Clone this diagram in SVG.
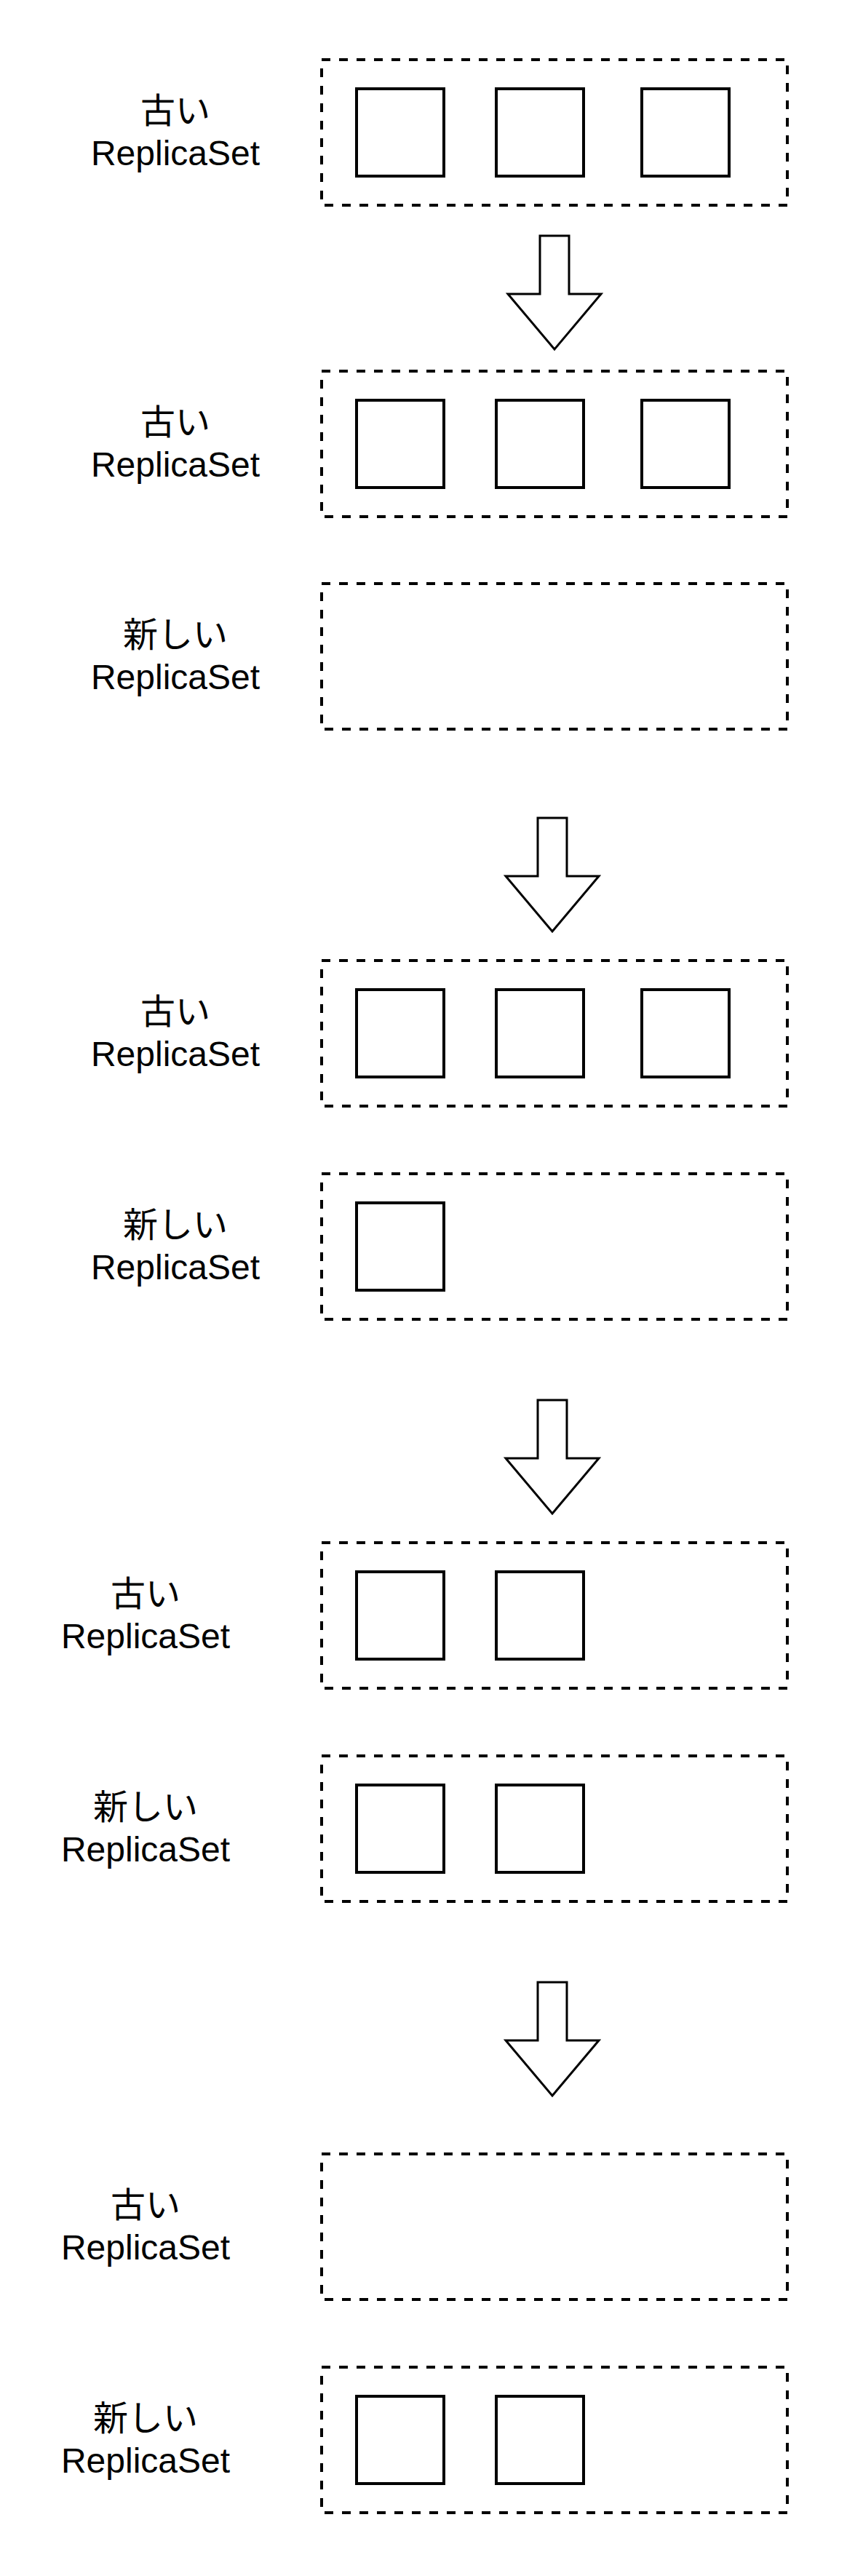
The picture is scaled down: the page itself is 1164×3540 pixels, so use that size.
<svg xmlns="http://www.w3.org/2000/svg" width="1164" height="3540" viewBox="0 0 1164 3540">
<style>
.rs{fill:none;stroke:#000;stroke-width:4;stroke-dasharray:12 12}
.pod{fill:#fff;stroke:#000;stroke-width:4}
.arr{fill:#fff;stroke:#000;stroke-width:3;stroke-miterlimit:10}
.lbl{font-family:"Liberation Sans","Noto Sans CJK JP",sans-serif;font-size:48px;fill:#000;text-anchor:middle}
</style>
<rect x="0" y="0" width="1164" height="3540" fill="#fff"/>

<g id="stage1-old">
<text class="lbl" x="241" y="169">古い</text>
<text class="lbl" x="241" y="227">ReplicaSet</text>
<rect class="rs" x="442" y="82" width="640" height="200"/>
<rect class="pod" x="490" y="122" width="120" height="120"/>
<rect class="pod" x="682" y="122" width="120" height="120"/>
<rect class="pod" x="882" y="122" width="120" height="120"/>
</g>

<g id="stage2-old">
<text class="lbl" x="241" y="597">古い</text>
<text class="lbl" x="241" y="655">ReplicaSet</text>
<rect class="rs" x="442" y="510" width="640" height="200"/>
<rect class="pod" x="490" y="550" width="120" height="120"/>
<rect class="pod" x="682" y="550" width="120" height="120"/>
<rect class="pod" x="882" y="550" width="120" height="120"/>
</g>

<g id="stage2-new">
<text class="lbl" x="241" y="889">新しい</text>
<text class="lbl" x="241" y="947">ReplicaSet</text>
<rect class="rs" x="442" y="802" width="640" height="200"/>
</g>

<g id="stage3-old">
<text class="lbl" x="241" y="1407">古い</text>
<text class="lbl" x="241" y="1465">ReplicaSet</text>
<rect class="rs" x="442" y="1320" width="640" height="200"/>
<rect class="pod" x="490" y="1360" width="120" height="120"/>
<rect class="pod" x="682" y="1360" width="120" height="120"/>
<rect class="pod" x="882" y="1360" width="120" height="120"/>
</g>

<g id="stage3-new">
<text class="lbl" x="241" y="1700">新しい</text>
<text class="lbl" x="241" y="1758">ReplicaSet</text>
<rect class="rs" x="442" y="1613" width="640" height="200"/>
<rect class="pod" x="490" y="1653" width="120" height="120"/>
</g>

<g id="stage4-old">
<text class="lbl" x="200" y="2207">古い</text>
<text class="lbl" x="200" y="2265">ReplicaSet</text>
<rect class="rs" x="442" y="2120" width="640" height="200"/>
<rect class="pod" x="490" y="2160" width="120" height="120"/>
<rect class="pod" x="682" y="2160" width="120" height="120"/>
</g>

<g id="stage4-new">
<text class="lbl" x="200" y="2500">新しい</text>
<text class="lbl" x="200" y="2558">ReplicaSet</text>
<rect class="rs" x="442" y="2413" width="640" height="200"/>
<rect class="pod" x="490" y="2453" width="120" height="120"/>
<rect class="pod" x="682" y="2453" width="120" height="120"/>
</g>

<g id="stage5-old">
<text class="lbl" x="200" y="3047">古い</text>
<text class="lbl" x="200" y="3105">ReplicaSet</text>
<rect class="rs" x="442" y="2960" width="640" height="200"/>
</g>

<g id="stage5-new">
<text class="lbl" x="200" y="3340">新しい</text>
<text class="lbl" x="200" y="3398">ReplicaSet</text>
<rect class="rs" x="442" y="3253" width="640" height="200"/>
<rect class="pod" x="490" y="3293" width="120" height="120"/>
<rect class="pod" x="682" y="3293" width="120" height="120"/>
</g>

<g id="connectors">
<polygon class="arr" points="742,324 782,324 782,404 826,404 762,480 698,404 742,404"/>
<polygon class="arr" points="739,1124 779,1124 779,1204 823,1204 759,1280 695,1204 739,1204"/>
<polygon class="arr" points="739,1924 779,1924 779,2004 823,2004 759,2080 695,2004 739,2004"/>
<polygon class="arr" points="739,2724 779,2724 779,2804 823,2804 759,2880 695,2804 739,2804"/>
</g>
</svg>
